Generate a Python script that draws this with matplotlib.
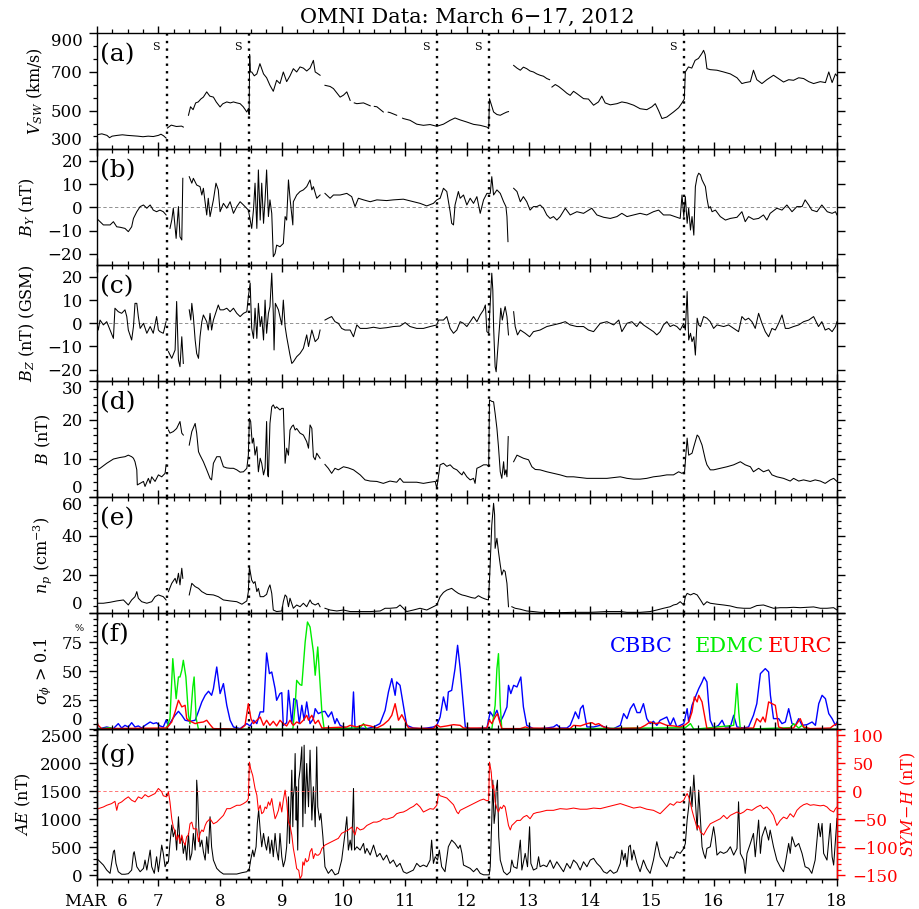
import numpy as np
import matplotlib
matplotlib.use("Agg")
import matplotlib.pyplot as plt
from matplotlib.ticker import MultipleLocator, FixedLocator

# OMNI overview, March 6-17 2012
# time in hours from 2012-03-06 00:00 ; nan marks data gaps
nan = float("nan")

shocks = [27.25, 59.4, 132.3, 152.6, 228.6]
day_labels = ["MAR  6", "7", "8", "9", "10", "11", "12", "13", "14", "15", "16", "17", "18"]

vsw = [(0, 375), (2, 380), (4, 372), (5, 360), (6, 368), (8, 372), (10, 375), (12, 372), (14, 370), (16, 368),
       (18, 365), (20, 368), (22, 366), (24, 372), (25, 378), (26, 370), (27, 358), (27.2, nan),
       (27.5, 410), (29, 425), (31, 418), (33, 420), (33.7, 415), (34.5, nan),
       (35.7, 476), (36.5, 520), (37.5, 505), (38.5, 540), (39.5, 545), (40.5, 560), (41.5, 570), (42.8, 597),
       (44, 575), (45.4, 570), (46.5, 545), (48, 519), (49, 535), (50.6, 545), (52, 540), (53.2, 545),
       (54.5, 540), (55.8, 536), (57, 520), (58.4, 493), (59, 510), (59.3, 480),
       (59.5, 790), (59.8, 700), (60.3, 700), (61.3, 680), (62.3, 690), (63.5, 743), (64.9, 690), (66.1, 670),
       (67.4, 631), (68.7, 600), (70, 657), (71.3, 640), (72.6, 700), (73.9, 650), (75.2, 680), (76.5, 717),
       (77.8, 700), (79.1, 726), (80.4, 720), (81.7, 705), (83, 720), (84.3, 760), (85, 700), (85.6, 695),
       (86.9, 683), (87.8, nan),
       (88.8, 631), (90.8, 625), (92.1, 614), (94.7, 570), (96, 580), (97.3, 597), (98.6, 553), (99.6, nan),
       (100.2, 540), (101.2, 536), (103.8, 540), (106.4, 525), (107.2, nan), (108, 522), (109, 520),
       (111.5, 493), (112.6, nan), (113.4, 492), (114.1, 490), (116.7, 476), (118.2, nan), (119, 461),
       (119.3, 459), (121.9, 450), (124.5, 430), (127.1, 424), (129.7, 428), (132.3, 419), (134.9, 430),
       (137.5, 450), (139.4, 462), (141.4, 452), (144, 441), (146.6, 429), (149.2, 424), (151.8, 415),
       (152.5, 407), (152.8, 562), (154.4, 493), (155.7, 480), (157, 476), (158.3, 485), (159.6, 493),
       (160.2, 495), (161.2, nan),
       (162.2, 734), (163.5, 720), (164.8, 709), (166, 725), (167.3, 717), (168.6, 705), (169.9, 700),
       (171.2, 690), (172.5, 683), (173.8, 678), (175.1, 666), (176.2, 660), (176.6, nan),
       (177.1, 622), (178.4, 635), (179.7, 625), (181.6, 605), (182.9, 590), (184.2, 579), (185.5, 600),
       (186.8, 588), (188.1, 575), (189.4, 562), (191.3, 560), (193.3, 528), (195.2, 545), (196.5, 575),
       (197.8, 540), (199.8, 530), (202.4, 536), (204.3, 545), (206.3, 540), (208.9, 528), (211.4, 510),
       (214, 505), (216, 520), (217.3, 536), (218.6, 500), (219.9, 459), (221.8, 467), (224.4, 493),
       (226.4, 515), (227.7, 540), (228.6, 560),
       (229, 700), (230.2, 726), (231.5, 720), (232.8, 760), (234.1, 770), (235.4, 795), (236.1, 812),
       (236.7, 790), (237.4, 717), (238.7, 712), (241.3, 709), (243.9, 700), (246.5, 690), (249.1, 670),
       (251, 640), (252.3, 645), (254.3, 650), (255.5, 709), (256.8, 660), (258.8, 640), (260.7, 660),
       (263.3, 683), (265.3, 665), (267.2, 648), (269.2, 660), (271.1, 657), (273.1, 670), (275, 666),
       (277, 650), (278.9, 640), (281.5, 650), (283.5, 645), (284.8, 700), (286.1, 645), (287.4, 690),
       (288, 680)]

by = [(0, -4.8), (1.3, -6.2), (2.6, -7.6), (5.2, -7.6), (6.5, -6.2), (7.8, -8.4), (9.1, -8.6), (11, -9.1),
      (12.3, -10.5), (13.6, -8.4), (14.3, -4.8), (15.6, -1.9), (16.9, 0.3), (18.2, 1.0), (19.5, -0.4),
      (20.8, 1), (22, -1.2), (23.3, -1.9), (24.6, -1.2), (25.9, -1.9), (27, -3.3), (27.6, nan),
      (28.5, -9.1), (29.2, -5.5), (29.8, -0.4), (30.9, -13.4), (31.8, 0.3), (32.4, -12.7), (33.1, -14.1),
      (33.5, 12.5), (34.5, nan),
      (36, 13.2), (37, 10.4), (37.6, 12.5), (38.9, 9.6), (40.2, 8.9), (40.9, 5.3), (41.5, 8.2), (42.8, -3.3),
      (43.4, 3.9), (44.1, -4.0), (45.4, 3.2), (46.4, 10.4), (47.3, 7.5), (48, -1.9), (49.3, 1.7),
      (50.6, -0.4), (51.9, 2.4), (53.2, -2.6), (54.5, 0.3), (55.8, 2.4), (57.1, 1.0), (59, -1.2),
      (59.7, -5.5), (60.3, -9.1), (61, -1), (61.6, 10.4), (62.3, -9.1), (62.9, 16.1), (63.6, -5.5),
      (64.2, 10.4), (64.9, -6.9), (65.5, 3.2), (66.1, 16.1), (66.8, -4), (67.4, 3.2), (68.1, -2.6),
      (68.7, -21.3), (69.4, -19.9), (70, -16.3), (71.3, -17), (72.6, -15.6), (73.3, -4), (73.9, -5.5),
      (74.6, 11.8), (75.2, 3.9), (76.3, -7.6), (76.5, 2.4), (77.8, 5.3), (79.1, 6.8), (80.4, 7.5),
      (81.7, 8.9), (83, 11.8), (83.7, 7.5), (84.3, 8.9), (85.6, 3.9), (86.9, 5.3), (87.8, nan),
      (88.8, 6.0), (90.8, 3.9), (92.1, 5.3), (94.7, 5.3), (97.3, 6), (99.2, 4.6), (100.5, 0.3),
      (101.8, 3.9), (103.8, 3.2), (106.4, 2.4), (109, 3.2), (112.8, 2.9), (115.4, 3.2), (119.3, 3.5),
      (123.2, 2.4), (125.8, 1.7), (128.4, 0.6), (131, 1.7), (132.3, 3.2), (133.6, 3.9), (134.9, 8.2),
      (136.2, 6.8), (137.5, -1.9), (138.1, -6.9), (138.8, -7.6), (139.4, 1), (140.7, 6.8), (141.4, 3.9),
      (142.7, 5.3), (144, 1), (145.3, 3.9), (146.6, 1.7), (147.9, 4.6), (149.2, -2.6), (150.5, 3.2),
      (151.8, 6), (153.1, 6), (153.7, 13.2), (154.4, 5.3), (155.7, 7.5), (157, 6), (158.3, 2.4),
      (159.2, 0.3), (159.6, -4), (160, -14.8), (161, nan),
      (162.2, 8.2), (163.5, 6.8), (164.8, 2.4), (166, 4.6), (167.3, 2.4), (168.6, -1.2), (169.9, 0.3),
      (171.2, 0.3), (172.5, 1), (173.8, -0.4), (175.1, -3.3), (176.4, -4.8), (177.7, -4), (179, -5.5),
      (180.3, -4), (182.3, -0.4), (184.2, -3.3), (186.8, -1.9), (189.4, -2.6), (192.6, -0.4),
      (194.6, -3.3), (197.2, -4.3), (199.8, -4.8), (202.4, -4), (204.3, -2.6), (206.3, -4), (208.9, -3.3),
      (211.4, -2.6), (214, -3.3), (216.6, -1.9), (218.6, -1.2), (220.5, -3.3), (223.1, -3.3),
      (225.7, -4.3), (227, -4.8), (227.7, 5.3), (228.4, -4), (229, 4.6), (229.7, -6.9), (230.3, -0.4),
      (231, -9.8), (231.6, -4), (232.3, -12), (232.9, 8.9), (233.6, 13.2), (234.2, 14.7), (234.9, 14),
      (235.5, 11.8), (236.8, 8.9), (237.4, 3.9), (238.1, -0.4), (238.7, 0.3), (239.4, -1.9),
      (240.7, -1.2), (242.6, -4), (244.6, -5.5), (246.5, -4.8), (249.1, -4.3), (251, -1.9),
      (252.3, -6.2), (253.6, -4), (255.5, -5.2), (257.5, -4.8), (259.4, -3.3), (260.7, -5.5), (262, -2.6),
      (264.6, -0.4), (266.6, -1.2), (268.5, 1), (270.5, -1.9), (272.4, 0.3), (274.4, 0.3), (275.6, 3.2),
      (277, 1), (278.2, -1.2), (280.2, -1.9), (282.1, 1), (284.2, -1.9), (286.1, -2.6), (287.4, -1.9),
      (288, -3.3)]

bz = [(0, 0.7), (0.6, -2.9), (1.3, 1.4), (2.6, -0.7), (3.9, 0.7), (5.2, -2.9), (6.5, -6.5), (7.1, 6.5),
      (8.4, 5), (9.7, 4.3), (11, 5.8), (11.7, 2.9), (12.3, -2.9), (13.6, -7.2), (14.3, -1.4), (14.9, 8.6),
      (15.6, 8.6), (16.2, 2.9), (16.9, -2.2), (18.2, 0), (19.5, -4.3), (20.8, -1.4), (22, -4.3),
      (23.3, 2.9), (24, -2.9), (24.6, -3.6), (25.9, -4.3), (27, 0.7), (27.4, nan),
      (27.9, -12.2), (29.2, -15.1), (30.5, -11.5), (31.1, 9.4), (31.8, -15.8), (32.4, -18.7),
      (33.1, -5.8), (33.7, -17.3), (34.8, nan),
      (36, 5.8), (36.6, 1.4), (37, 8.6), (37.6, 2.9), (38.3, -7.2), (38.9, -13), (39.6, -15.1),
      (40.2, -5.8), (40.9, 0.7), (41.5, 3.6), (42.8, 0.7), (43.4, -2.9), (44.1, 4.3), (44.7, -2.9),
      (45.4, 1.4), (46.7, 5.8), (47.3, 7.9), (48, 5.8), (49.3, 5.8), (50.6, 6.5), (51.9, 5), (53.2, 6.5),
      (54.5, 4.3), (55.8, 2.9), (57.1, 4.3), (58.4, 5), (59, 11.5), (59.7, 17.3), (60.3, -2.2),
      (61, -6.5), (61.6, 6.5), (62.3, -6.5), (62.9, 8.6), (63.6, -1.4), (64.2, 2.9), (64.9, -7.2),
      (65.5, 10), (66.1, -4.3), (66.8, 4.3), (67.4, 7.2), (68.1, 21.6), (68.7, 4.3), (69, -11.5),
      (69.5, 8.6), (70.7, 5.8), (72, -0.7), (72.6, 10), (73.3, -1.4), (73.9, -5.8), (74.6, -10),
      (75.2, -13.7), (75.9, -17.3), (76.5, -16.6), (77.8, -14.4), (79.1, -13), (80.4, -10.8),
      (81.7, -5), (82.4, -10), (83.7, -2.9), (85, -7.9), (86.2, -6.5), (86.9, -2.9), (87.8, nan),
      (88.8, 1.4), (90.1, 2.2), (91.4, 2.9), (92.7, 0.7), (94, 0), (95.3, -2.2), (96.6, -2.9),
      (98.6, -2.9), (99.9, -5.8), (101.2, -0.7), (102.5, -2.2), (105.1, -2.2), (107.7, -1.7),
      (110.2, -2.2), (112.8, -1.9), (115.4, -1.4), (118, -1.2), (120, 0.3), (121.9, -1.4), (124.5, -2.2),
      (127.1, -2.2), (129.7, -1.4), (132.3, -0.7), (133, 1.4), (134.9, 1.4), (136.2, 2.9), (137.5, -2.2),
      (138.8, -4.3), (140.1, -2.9), (141.4, 0.7), (142.7, 0), (144, -1.4), (145.3, 0.7), (146.6, 2.9),
      (147.9, 0.7), (149.2, 3.6), (150.5, 5.8), (151.2, 7.9), (151.8, -3.6), (152.5, -4.3), (153.1, 8.6),
      (153.7, 21.6), (154.1, 14.4), (154.4, -1.4), (155, -18.7), (155.4, -20.9), (155.9, -13),
      (156.7, -1.4), (157.2, 6.5), (157.8, 1.4), (158.3, 4.3), (158.9, 7.2), (159.6, 2.9), (160.2, -5),
      (161.2, nan),
      (162.2, 5), (162.8, -1.4), (163.7, -5), (164.8, -2.9), (166.7, -4.3), (168.4, -5.8), (169.9, -3.6),
      (172.5, -2.9), (175.1, -1.4), (177.7, -0.7), (180.3, 0), (182.3, 0.7), (184.2, -0.7), (186.8, -1.4),
      (189.4, -1.4), (191.3, -2.9), (193.3, -3.6), (195.9, 0), (198.5, 0.7), (201.1, -0.7), (203.1, 1.4),
      (204.3, -3.6), (206.3, 0), (208.2, 0.7), (210.1, -1.4), (211.4, 0.7), (212.7, -0.7), (214.7, -2.2),
      (216.6, -3.6), (217.9, -5), (219.2, -3.6), (220.5, -0.7), (221.8, 0.7), (223.1, -1.4),
      (224.4, -0.7), (225.7, -1.4), (227, -2.9), (228.4, 0), (229, -2.9), (229.7, 13.7), (229.9, 7.2),
      (230.3, -7.2), (231, -4.3), (231.6, -7.9), (232.3, -5.8), (232.9, -13.7), (233.6, 2.2),
      (234.2, -0.7), (234.9, -1.4), (236.1, 2.9), (237.4, 2.2), (238.7, 0.7), (240, -2.2), (241.3, -0.7),
      (243.9, -1.4), (245.8, -0.7), (247.8, -2.2), (249.7, -3.6), (251, 2.9), (252.3, 1.4), (253.6, 2.2),
      (254.9, 0.7), (256.2, -2.2), (257.5, 4.3), (258.8, 0), (260.1, -3.6), (261.4, -5.8), (262.7, -2.2),
      (264, -2.9), (265.3, 0), (266.6, 3.6), (267.9, -2.2), (269.2, -2.2), (271.1, -1.4), (273.1, -0.7),
      (275, 0.7), (277, 1.4), (278.9, 2.9), (280.8, -1.4), (282.1, 0.7), (283.4, -2.9), (284.8, -2.2),
      (286.1, -3.6), (287.4, -1.4), (288, 0.7)]

btot = [(0, 7.1), (1.3, 7.5), (3.9, 8.8), (6.5, 9.9), (9.1, 10.3), (11, 10.5), (12.3, 10.9), (13.6, 10.5),
        (14.3, 10.1), (14.9, 9.2), (15.6, 7.1), (15.8, 3.2), (16.9, 3.6), (18.2, 4.1), (18.8, 2.8),
        (20.1, 4.9), (20.8, 3.6), (21.4, 5.3), (22.7, 4.1), (24, 5.8), (25.3, 5.3), (26.6, 6.2), (27, 8.4),
        (27.3, nan),
        (27.9, 17.4), (28.5, 16.6), (29.8, 17), (31.1, 17.8), (32.4, 19.6), (33.1, 16.6), (33.7, 16.1),
        (34.8, nan),
        (36, 13.5), (37, 17), (38.3, 19.1), (38.9, 16.6), (39.6, 11.8), (40.2, 10.9), (41.5, 9.2),
        (42.8, 7.1), (44.1, 4.9), (44.7, 4.5), (45.4, 8.8), (46.7, 10.5), (48, 10.5), (49.3, 7.9),
        (50.6, 7.6), (51.9, 7.5), (53.2, 7.5), (54.5, 7.1), (55.8, 6.5), (57.1, 6.6), (58.4, 7.5),
        (59, 10.9), (59.4, 20.4), (59.9, 19.6), (60.5, 14), (61, 15.3), (61.6, 10.9), (62.3, 13.1),
        (62.9, 6.6), (63.6, 10.1), (64.2, 8.8), (64.9, 5.8), (65.5, 7.5), (66.1, 19.6), (66.5, 5.8),
        (66.8, 5.3), (67.4, 19.1), (68.1, 23.4), (68.7, 23.9), (69.4, 23), (70, 23.4), (71.3, 22.6),
        (72, 23), (72.6, 23), (73.3, 8.8), (73.9, 12.7), (74.6, 10.9), (75.2, 17.4), (75.9, 18.3),
        (76.5, 18.7), (77.2, 17.4), (77.8, 17.8), (79.1, 16.6), (80.4, 16.1), (81.7, 14.4), (82.4, 12.7),
        (83, 18.7), (83.7, 17.8), (84.3, 10.5), (85, 9.7), (85.6, 11.4), (86.9, 10.1), (87.8, nan),
        (88.8, 8.5), (90.1, 7.5), (91.4, 6.2), (92.7, 7.5), (94, 7.1), (96, 7.9), (97.9, 7.6), (99.9, 7.1),
        (102.5, 5.8), (104.4, 4.5), (106.4, 4.2), (109, 4.1), (111.5, 3.6), (114.1, 4.2), (116.7, 3.9),
        (118, 4.9), (119.3, 3.9), (121.9, 3.9), (124.5, 3.9), (127.1, 3.6), (129.7, 3.9), (131.7, 4.1),
        (132.3, 2.3), (133.6, 8.4), (134.9, 8.8), (136.2, 8), (137.5, 8.4), (138.8, 7.5), (140.1, 7.1),
        (141.4, 6.2), (142.1, 5.8), (142.7, 6.6), (144, 5.3), (145.3, 4.5), (146.6, 4.9), (147.2, 3.6),
        (147.9, 7.5), (149.2, 7.9), (150.5, 8.4), (151.8, 8.4), (152.5, 7.9), (152.8, 25.2), (153.7, 24.8),
        (154.4, 24.7), (155, 21.7), (155.7, 17.8), (156.3, 13.1), (157, 6.6), (157.6, 4.9), (158.3, 9.2),
        (158.7, 5.8), (159.2, 7.1), (159.6, 5.3), (160.1, 15.7), (161, nan),
        (162.2, 9.2), (163.5, 10.9), (164.8, 10.5), (166, 10.1), (168, 9.7), (169.3, 7.9), (170.6, 7.2),
        (172.5, 7.1), (175.1, 6.6), (177.7, 6.2), (180.3, 5.8), (182.9, 5.3), (185.5, 5.3), (188.1, 5.1),
        (190.7, 4.9), (193.3, 4.9), (195.9, 4.9), (198.5, 4.9), (201.1, 5.1), (203.7, 5.3), (206.3, 4.9),
        (208.9, 4.7), (211.4, 4.7), (214, 4.9), (216.6, 5.3), (219.2, 5.5), (221.8, 5.8), (224.4, 5.8),
        (226.4, 6.6), (227.7, 6.2), (228.7, 6.6), (229.7, 15.3), (230.3, 10.9), (231.6, 11.4),
        (232.3, 13.1), (233.6, 16.1), (234.2, 15.7), (235.5, 13.5), (236.8, 9.7), (237.4, 8.4),
        (238.7, 7.1), (240, 7.1), (242.6, 7.5), (245.2, 7.9), (247.8, 8.4), (250.4, 9.2), (252.3, 8.4),
        (254.3, 7.9), (255.5, 6.6), (257.5, 7.5), (259.4, 6.6), (261.4, 7.1), (262.7, 5.8), (264.6, 5.3),
        (267.2, 4.9), (269.8, 4.2), (271.1, 4.9), (273.1, 4.2), (275, 4.5), (277.6, 4.1), (279.5, 4.5),
        (281.5, 4.2), (283.4, 3.6), (285.4, 4.5), (286.7, 4.9), (288, 4.1)]

dens = [(0, 5.2), (2.6, 5.2), (5.2, 5.7), (7.8, 6.4), (10.4, 6.9), (12.3, 4.3), (13.6, 6.9), (14.9, 8.6),
        (15.6, 11.2), (16.2, 7.8), (17.5, 6), (19.5, 5.2), (21.4, 6), (22.7, 8.6), (24, 9.5), (25.9, 8.6),
        (27, 6.9), (27.4, nan),
        (27.9, 11.2), (29.2, 15.5), (30.5, 18.1), (31.1, 15.5), (31.8, 20.7), (32.4, 14.7), (33.1, 23.3),
        (33.5, 18.1), (34.8, nan),
        (36, 9.5), (37, 15.5), (38.3, 13.8), (39.6, 12.9), (40.9, 11.2), (42.8, 9.8), (45.4, 9.5),
        (47.3, 8.6), (49.3, 6.9), (51.9, 6.4), (54.5, 6), (56.5, 4.7), (58.4, 6.4), (59, 11.2),
        (59.4, 24.1), (60.3, 17.2), (61, 15.5), (61.6, 16.4), (62.3, 11.2), (62.9, 12.9), (63.6, 8.6),
        (64.9, 8.6), (66.1, 9.8), (66.8, 12.9), (67.4, 14.7), (68.1, 10.3), (68.7, 1.7), (70, 0.9),
        (72, 1.2), (72.6, 6), (73.3, 9.5), (73.9, 8.6), (74.6, 3.4), (75.2, 7.8), (76.5, 2.6), (77.8, 4.3),
        (79.1, 3.4), (80.4, 5.2), (81.7, 3.4), (83, 6.9), (83.7, 5.2), (85, 4.3), (86.2, 5.2), (86.9, 3.4),
        (87.8, nan),
        (88.8, 2.6), (90.8, 1.7), (93.4, 1.2), (96, 1.7), (98.6, 0.9), (102.5, 0.9), (106.4, 0.9),
        (110.3, 1.2), (112.2, 2.6), (114.1, 2.6), (116.7, 2.9), (118, 4.3), (119.3, 2.6), (120.6, 0.9),
        (123.2, 1.7), (125.8, 2.6), (128.4, 1.7), (131, 3.4), (132.3, 4.3), (133.6, 8.6), (134.9, 10.8),
        (136.2, 12), (138.1, 12.9), (139.4, 11.5), (140.7, 10.3), (142.1, 9.5), (143.4, 9.1), (144.6, 8.6),
        (145.9, 8.1), (147.2, 7.8), (148.5, 9.1), (149.8, 8.1), (151.1, 7.4), (152.4, 6.9), (152.9, 19.8),
        (153.7, 45.7), (154.4, 56.9), (154.8, 50.9), (155, 33.6), (155.7, 38.8), (156.3, 31.9), (157, 25),
        (157.6, 19.8), (158.3, 22.4), (158.9, 21.6), (159.6, 15.5), (160.2, 3.4), (160.8, nan),
        (161.5, 3.4), (162.8, 2.6), (164.8, 2.1), (167.3, 1.2), (169.9, 0.9), (172.5, 0.5), (179, 0.3),
        (185.5, 0.5), (192, 0.5), (198.5, 0.9), (201.1, 0.9), (203.7, 0.9), (206.3, 0.5), (211.4, 0.5),
        (215.3, 0.9), (217.9, 1.7), (220.5, 2.6), (223.1, 3.4), (224.4, 4.3), (225.7, 4.7), (227, 6),
        (228.4, 4.3), (229, 8.6), (229.7, 10.3), (231, 9.5), (232.3, 10.3), (233.6, 9.5), (234.9, 6.9),
        (236.1, 4.3), (237.4, 6), (238.7, 5.2), (241.3, 4.7), (243.9, 4.3), (246.5, 3.8), (249.1, 2.9),
        (251.7, 2.6), (254.3, 2.6), (256.8, 4), (259.4, 4.3), (261.4, 3.4), (263.3, 2.6), (265.9, 2.9),
        (268.5, 2.9), (271.1, 3.1), (273.7, 2.9), (276.3, 3.1), (278.9, 3.3), (281.5, 2.6), (284.1, 2.6),
        (286.7, 2.9), (288, 1.7)]

cbbc = [(0, 1), (1.3, 0.6), (3.9, 2), (6.5, 0.6), (8.4, 4.9), (9.7, 1.1), (11, 3.4), (12.3, 2), (13.6, 5.7),
        (14.9, 2), (16.2, 2.9), (17.5, 1.1), (18.8, 3.4), (20.8, 6.3), (22, 4.9), (23.3, 5.7), (24.6, 2.9),
        (25.9, 2), (27, 7.8), (27.9, 2.9), (29.2, 7.8), (30.5, 12.1), (31.8, 15.5), (33.1, 12.1),
        (34.4, 7.8), (36.3, 6.9), (38.3, 7.8), (39.6, 15.5), (40.9, 23.6), (42.2, 29.3), (43.5, 32.8),
        (44.7, 29.3), (45.4, 35), (46.7, 53.7), (48, 30.8), (49.3, 39.4), (50.6, 20.7), (51.9, 7.8),
        (53.2, 2), (55.8, 0.6), (58.4, 4.9), (59.7, 2.9), (61, 7.8), (62.3, 4.9), (63.6, 15), (64.9, 15),
        (66.1, 65.8), (67.2, 48), (68.1, 49.4), (69.4, 35), (70, 25), (71.3, 30.8), (72, 31.6), (72.6, 3.4),
        (73.9, 5.7), (74.6, 33.6), (75.9, 4.9), (76.7, 26.4), (77.8, 25), (78.8, 4.9), (79.8, 20.7),
        (80.7, 7.8), (81.7, 23.6), (83, 4.9), (84.3, 9.2), (85, 17.8), (86.2, 13.5), (87.6, 15),
        (88.8, 15.5), (90.1, 10.6), (91.4, 15), (92.7, 4.9), (93.4, 9.2), (94.7, 3.4), (96, 2), (97.3, 0.6),
        (99.2, 0.6), (99.9, 32.2), (100.5, 0.6), (102.5, 1.1), (105.1, 0.6), (107.7, 2), (110.2, 4.9),
        (112.2, 16.4), (113.5, 32.2), (114.8, 43.7), (116.1, 29.3), (116.7, 40.8), (118, 37.9),
        (119.3, 20.7), (120.6, 3.4), (123.2, 1.1), (125.8, 0.6), (128.4, 1.1), (131, 2), (132.3, 3.4),
        (133.6, 10.6), (134.9, 27.9), (136.2, 16.4), (136.8, 32.2), (138.1, 33.6), (139.4, 52.3),
        (140.4, 72.4), (141.4, 52.3), (142.1, 35), (143.4, 2), (145.3, 0.6), (147.9, 0.6), (151.8, 1.1),
        (153.1, 15), (154.4, 10.6), (155.7, 16.4), (157, 6.3), (158.3, 12.1), (159.6, 19.3), (160.2, 37.9),
        (161.1, 30.8), (162.2, 37.9), (163.5, 36.5), (165, 45.1), (166, 19.3), (167.3, 3.4), (169.9, 0.6),
        (172.5, 0.6), (175.1, 1.1), (177.7, 2), (179, 4), (180.3, 1.1), (182.9, 1.1), (184.2, 3.4),
        (185.5, 10.6), (186.2, 15), (187.5, 9.2), (188.2, 17.8), (189.2, 20.7), (190.1, 9.2), (190.7, 2),
        (193.3, 2), (195.9, 3.4), (198.5, 1.1), (201.1, 0.6), (203.7, 3.4), (205, 13.5), (206.3, 9.2),
        (207.6, 17.8), (208.9, 22.1), (210.2, 14.4), (211.4, 14.4), (212.7, 22.1), (214, 9.2), (215.3, 4.9),
        (216.6, 6.9), (217.9, 3.4), (219.2, 7.8), (220.5, 9.2), (221.8, 10.6), (223.1, 3.4), (224.4, 9.8),
        (225.7, 2), (227, 3.4), (228.4, 4.9), (229.7, 17.8), (230.3, 6.3), (231.6, 20.7), (232.9, 27.9),
        (234.2, 35), (235.5, 40.8), (236.3, 45.1), (237.4, 40.8), (238, 23.6), (238.7, 7.8), (240, 1.1),
        (241.9, 3.4), (243.3, 7.8), (244.5, 2), (246.5, 2), (247.8, 12.1), (249.1, 2), (251.7, 1.1),
        (253.6, 2), (255.5, 12.1), (256.8, 22.1), (258.2, 48), (260.1, 52.3), (261.4, 49.4), (262.1, 29.3),
        (263.3, 9.2), (265.3, 9.2), (266.6, 4.9), (267.9, 6.3), (269.2, 17.8), (270.5, 4.9), (271.8, 3.4),
        (273.1, 9.2), (274.4, 3.4), (276.3, 4), (278.3, 6.3), (279.6, 3.4), (280.9, 22.1), (282.2, 29.3),
        (283.5, 26.4), (284.8, 13.5), (286.1, 9.2), (287.4, 3.4), (288, 6.3)]

edmc = [(0, 0), (5.2, 1.4), (6.5, 0), (27, 0), (28.5, 9.2), (29.6, 60.9), (30.9, 26.4), (31.8, 45.1),
        (32.4, 45.1), (33.1, 50.9), (33.7, 59.5), (34.7, 45.1), (35.7, 12.1), (36.3, 4.9), (37.4, 36.5),
        (37.9, 45.1), (38.7, 9.2), (39.6, 0), (76.3, 0), (77.2, 20.7), (77.8, 42.2), (79.1, 38.5),
        (79.8, 37.9), (81.1, 75.3), (82, 92.5), (83, 88.2), (84.3, 66.7), (85, 46.6), (86, 71), (86.9, 39.4),
        (87.6, 15), (88.5, 0), (102.5, 1.4), (103.8, 4.9), (105.1, 0), (153.7, 0), (155, 20.7),
        (155.7, 52.3), (156.3, 65.2), (157, 20.7), (157.6, 0), (229, 1.4), (231, 4.9), (232.3, 0),
        (247.8, 3.4), (248.4, 19.3), (249.1, 39.4), (249.8, 14.4), (250.4, 0), (269.8, 1.4), (271.1, 4.9),
        (273.1, 1.1), (274.4, 3.4), (275.7, 0), (288, 0)]

eurc = [(0, 6.3), (0.6, 3.4), (1.9, 0.6), (27.2, 1.1), (29.2, 6.3), (30.5, 15), (31.8, 25), (33.1, 19.3),
        (34.4, 20.7), (35, 9.2), (35.7, 7.8), (37, 6.3), (38.3, 4.9), (39.6, 5.7), (41.5, 6.3), (42.8, 7.8),
        (44.1, 4), (45.4, 0.6), (55.8, 0), (57.7, 3.4), (59, 22.1), (60, 9.2), (61, 4.9), (62.3, 7.8),
        (63.6, 10.6), (64.9, 3.4), (66.1, 7.8), (67.4, 3.4), (68.7, 6.9), (70, 2.9), (71.3, 7.8),
        (72.6, 4.9), (73.9, 2.9), (75.2, 7.8), (76.5, 3.4), (77.8, 6.3), (79.1, 4.9), (80.4, 7.8),
        (81.7, 12.1), (82.4, 7.8), (83.7, 12.1), (85, 4.9), (86.2, 7.8), (87.6, 1.1), (97.3, 2),
        (98.6, 3.4), (101.2, 2), (103.8, 4), (106.4, 2.9), (109, 1.1), (111.5, 4), (113.5, 7.8),
        (114.8, 12.1), (116.1, 22.1), (117.4, 7.8), (118.7, 12.6), (120, 6.9), (121.3, 1.1), (131, 0.6),
        (132.3, 4), (133.6, 2), (136.2, 2.9), (138.8, 4), (141.4, 3.4), (142.7, 1.1), (151.8, 1.1),
        (152.8, 7.8), (153.7, 4.9), (155, 10.6), (155.9, 13.5), (156.8, 6.3), (157.6, 0.6), (164.8, 0.6),
        (166.8, 2), (168.1, 1.1), (184.2, 0.6), (185.5, 3.4), (188.2, 2.9), (190.7, 4.9), (192.7, 5.7),
        (194, 4), (195.3, 4.9), (197.2, 2), (199.8, 0.6), (211.4, 1.1), (213.4, 3.4), (215.3, 6.3),
        (217.3, 4.9), (219.2, 5.7), (221.8, 3.4), (224.4, 2.9), (227, 2), (229, 4), (230.3, 6.3),
        (231.6, 15), (232.5, 27.9), (233.6, 23.6), (234.2, 29.3), (235.5, 23.6), (236.8, 7.8), (237.4, 0.6),
        (255.5, 1.1), (256.8, 9.2), (258.2, 6.3), (259.2, 10.6), (260.1, 6.3), (261.4, 23.6), (262.7, 22.1),
        (264, 20.7), (265.3, 2), (267.2, 0.6), (271.1, 1.1), (272.4, 4.9), (273.7, 9.2), (275, 2),
        (277.6, 0.6), (285.4, 1.1), (286.7, 3.4), (288, 4.9)]

ae = [(0, 303), (1.3, 243), (2.6, 184), (3.9, 95), (5.2, 36), (6.5, 422), (6.9, 451), (7.5, 214), (8.4, 65),
      (9.7, 20), (11, 20), (12.3, 30), (13.6, 95), (14.3, 392), (14.6, 422), (15.6, 154), (16.9, 65),
      (18.2, 125), (18.8, 273), (19.5, 95), (20.8, 451), (21.4, 154), (22.4, 36), (23.3, 332), (24, 65),
      (25.3, 540), (25.9, 392), (26.6, 154), (27.2, 214), (27.9, 243), (28.5, 570), (29.2, 897),
      (29.8, 689), (30.5, 808), (31.1, 451), (31.8, 1045), (32.4, 570), (33.1, 689), (33.7, 392),
      (34.4, 570), (35, 273), (35.7, 748), (36.3, 273), (37, 392), (37.6, 748), (38.3, 451), (38.7, 986),
      (38.9, 1698), (39.3, 1401), (39.7, 867), (40.2, 510), (40.9, 629), (41.5, 422), (42.2, 273),
      (42.8, 689), (43.4, 392), (44.1, 1045), (44.7, 510), (45.4, 273), (46.7, 125), (48, 65), (49.3, 24),
      (51.9, 24), (54.5, 24), (56.5, 48), (58.4, 65), (59.4, 125), (59.9, 273), (60.7, 451), (61.2, 332),
      (62, 510), (62.5, 926), (63, 1164), (63.6, 807), (64.2, 510), (64.9, 748), (65.5, 570), (66.1, 451),
      (66.8, 689), (67.4, 392), (68.1, 629), (68.7, 332), (69.4, 748), (70, 451), (70.7, 273), (71.3, 748),
      (72, 332), (72.6, 154), (73.3, 273), (73.9, 510), (74.2, 867), (74.6, 1401), (75, 570),
      (75.5, 1223), (75.9, 1876), (76.3, 867), (76.5, 1401), (76.9, 1580), (77.2, 2173), (77.6, 986),
      (77.8, 1580), (78.2, 451), (78.6, 1698), (79.1, 1876), (79.8, 2292), (80.2, 867), (80.7, 2321),
      (81.1, 1104), (81.7, 1995), (82.4, 1223), (83, 2233), (83.7, 986), (84.3, 1580), (85, 867),
      (85.6, 2292), (86, 1223), (86.7, 986), (87.2, 1104), (88, 689), (88.8, 154), (90.1, 36),
      (91.4, 107), (92.7, 10), (94, 36), (95.3, 273), (96.6, 748), (97.3, 1045), (97.9, 451), (98.6, 629),
      (99.2, 451), (99.9, 1550), (100.3, 451), (101.2, 510), (102.5, 451), (103.8, 570), (104.4, 392),
      (105.1, 481), (106.4, 362), (107.7, 540), (109, 332), (110.2, 392), (111.5, 273), (112.8, 362),
      (114.1, 214), (115.4, 273), (116.7, 154), (118, 214), (119.3, 65), (120.6, 36), (121.9, 65),
      (123.2, 95), (124.5, 214), (125.8, 154), (127.1, 184), (128.4, 154), (129.7, 273), (130.3, 629),
      (131, 214), (131.7, 332), (132.6, 273), (133.3, 451), (134.2, 154), (135.5, 65), (136.8, 510),
      (138.1, 629), (139.4, 570), (140.7, 481), (141.4, 540), (142.1, 392), (142.7, 184), (144, 154),
      (145.3, 125), (146.6, 65), (147.9, 125), (149.2, 36), (150.5, 10), (151.8, 10), (152.7, 10),
      (153.1, 154), (153.7, 986), (154.1, 1698), (154.6, 926), (155, 1104), (155.4, 1520), (155.9, 1698),
      (156.4, 689), (157, 273), (158.3, 65), (159.6, 10), (160.9, 65), (161.5, 273), (162.2, 154),
      (163.5, 125), (164.8, 629), (165.4, 95), (166.7, 392), (167.6, 154), (168.4, 867), (168.9, 214),
      (169.9, 95), (171.2, 125), (171.9, 332), (172.5, 154), (173.8, 184), (175.1, 154), (176.4, 273),
      (177.7, 125), (179, 243), (180.3, 154), (181.6, 65), (182.9, 214), (184.2, 125), (185.5, 273),
      (186.8, 214), (188.1, 95), (189.4, 243), (190.7, 154), (192, 273), (193.3, 303), (194.6, 214),
      (195.9, 154), (197.2, 65), (198.5, 36), (199.8, 95), (201.1, 36), (202.4, 65), (203.7, 214),
      (204.3, 451), (205, 273), (205.6, 392), (206.3, 154), (207, 510), (207.6, 540), (208.2, 273),
      (208.9, 451), (210.2, 214), (211.4, 65), (212.7, 273), (214, 125), (215.3, 36), (216.6, 273),
      (217.9, 600), (219.2, 332), (220.5, 243), (221.8, 154), (223.1, 332), (224.4, 303), (225.7, 422),
      (227, 392), (228.4, 481), (229, 570), (229.7, 986), (230.3, 1223), (231, 1580), (231.6, 1223),
      (232.3, 1787), (232.9, 1342), (233.6, 807), (234.2, 1520), (234.9, 986), (235.5, 510), (236.1, 392),
      (236.8, 303), (237.4, 481), (238.7, 510), (240, 867), (240.6, 689), (241.3, 362), (242.6, 422),
      (243.9, 392), (245.2, 422), (246.5, 510), (247.8, 362), (249.1, 481), (249.7, 1312), (250.4, 392),
      (251.7, 273), (252.3, 36), (253, 392), (254.3, 570), (255.5, 748), (256.2, 332), (257.5, 986),
      (258.2, 392), (258.8, 689), (260.1, 867), (261.4, 629), (262, 807), (263.3, 510), (264.6, 273),
      (265.9, 154), (267.2, 65), (267.9, 214), (269.2, 570), (269.8, 392), (270.5, 689), (271.8, 510),
      (273.1, 570), (274.4, 392), (275.6, 154), (277, 125), (278.2, 36), (279.5, 273), (280.8, 926),
      (281.5, 689), (282.2, 926), (282.8, 392), (284.1, 273), (285.4, 926), (286.1, 332), (286.7, 184),
      (287.4, 629), (288, 1015)]

symh = [(0, -32), (1.3, -30), (2.6, -28), (3.9, -25), (5.8, -22), (7.1, -18), (7.8, -34), (8.4, -22),
        (9.7, -19), (11, -14), (12.3, -10), (13.6, -16), (14.9, -19), (16.2, -10), (17.5, -13), (18.8, -6),
        (20.1, -10), (21.4, -7), (22.7, -4), (24, 5), (25.3, -1), (25.9, -8), (27.2, -10), (27.9, -1),
        (28.5, -19), (29.2, -49), (29.8, -64), (30.5, -72), (31.1, -87), (31.8, -78), (32.4, -93),
        (33.1, -78), (33.7, -90), (34.4, -96), (35, -81), (35.7, -78), (36.3, -58), (37, -55), (37.6, -67),
        (38.9, -67), (39.6, -90), (40.2, -75), (40.9, -69), (41.5, -72), (42.2, -61), (42.8, -55),
        (44.1, -49), (45.4, -58), (46.7, -55), (48, -49), (49.3, -43), (50.6, -31), (51.9, -31),
        (53.2, -28), (54.5, -25), (55.8, -25), (57.1, -22), (58.4, -18), (59, -13), (59.4, 52), (59.9, 40),
        (60.7, 28), (61.6, 5), (62.3, -7), (62.9, -34), (63.6, -25), (64.2, -40), (64.9, -37), (65.5, -28),
        (66.1, -31), (66.8, -19), (67.4, -25), (68.1, -13), (68.7, -31), (69.4, -49), (70, -43),
        (70.7, -34), (71.3, -19), (72, -37), (72.6, -16), (73.3, 2), (73.9, -19), (74.6, -55), (75.2, -61),
        (75.9, -78), (76.5, -102), (77.2, -120), (77.8, -138), (78.6, -141), (79.1, -156), (79.8, -150),
        (80.2, -126), (80.7, -132), (81.2, -120), (81.7, -126), (82.4, -123), (83, -108), (83.7, -102),
        (84.3, -120), (85, -111), (85.6, -114), (86.2, -114), (86.9, -111), (87.6, -102), (88.2, -99),
        (88.8, -96), (90.1, -93), (91.4, -90), (92.7, -87), (94, -84), (95.3, -75), (96.6, -72),
        (97.9, -69), (99.2, -64), (99.9, -72), (100.5, -78), (101.2, -64), (102.5, -69), (103.8, -67),
        (105.1, -61), (106.4, -58), (107.7, -55), (109, -55), (110.2, -53), (111.5, -49), (112.8, -50),
        (114.1, -48), (115.4, -46), (116.7, -40), (118, -38), (119.3, -37), (120.6, -34), (121.9, -30),
        (123.2, -27), (124.5, -22), (125.8, -28), (127.1, -37), (128.4, -34), (129.7, -31), (131, -32),
        (132.3, -25), (133, -4), (133.6, -8), (134.9, -10), (136.2, -12), (137.5, -18), (138.8, -24),
        (140.1, -37), (140.7, -40), (141.4, -34), (142.7, -31), (144, -28), (145.3, -25), (146.6, -22),
        (147.9, -19), (149.2, -16), (150.5, -14), (151.8, -17), (152.5, -16), (152.8, 52), (153.5, 34),
        (153.9, 5), (154.4, 11), (155, -19), (155.7, -31), (156.3, -37), (157, -28), (157.6, -31),
        (158.3, -25), (158.9, -28), (159.6, -46), (160.2, -61), (160.9, -69), (161.5, -61), (162.2, -58),
        (163.5, -52), (164.8, -52), (166, -46), (167.3, -43), (168.6, -49), (169.9, -40), (171.2, -38),
        (172.5, -37), (175.1, -34), (177.7, -34), (180.3, -31), (182.9, -32), (185.5, -30), (188.1, -32),
        (190.7, -32), (193.3, -30), (195.9, -31), (198.5, -28), (201.1, -25), (203.7, -22), (206.3, -26),
        (208.9, -30), (211.4, -28), (214, -32), (216.6, -34), (219.2, -40), (220.5, -34), (221.8, -28),
        (223.1, -22), (224.4, -25), (225.7, -19), (227, -20), (228.4, -16), (229, -10), (229.7, -4),
        (230.3, -10), (231, -22), (231.6, -34), (232.3, -46), (232.9, -55), (233.6, -67), (234.2, -61),
        (234.9, -73), (235.5, -75), (236.1, -78), (236.8, -72), (237.4, -67), (238.7, -58), (240, -55),
        (241.3, -52), (242.6, -49), (243.9, -43), (245.2, -49), (246.5, -43), (247.8, -40), (249.1, -37),
        (250.4, -40), (251.7, -37), (253, -32), (254.9, -34), (256.8, -28), (258.2, -25), (259.4, -31),
        (260.7, -28), (262, -34), (263.3, -43), (264.6, -61), (265.9, -52), (267.2, -46), (268.5, -49),
        (269.8, -40), (271.1, -46), (272.4, -34), (273.7, -28), (275, -24), (276.3, -22), (277.6, -25),
        (278.9, -24), (280.2, -25), (281.5, -26), (282.8, -25), (284.1, -28), (285.4, -34), (286.7, -37),
        (287.4, -31), (288, -28)]


def xy(series):
    arr = np.array(series, dtype=float)
    return arr[:, 0], arr[:, 1]


plt.rcParams["font.family"] = "DejaVu Serif"
plt.rcParams["mathtext.fontset"] = "dejavuserif"
plt.rcParams["font.size"] = 11.5
plt.rcParams["xtick.labelsize"] = 12
plt.rcParams["ytick.labelsize"] = 12

fig = plt.figure(figsize=(9.2, 9.09), dpi=100)
W, H = 920.0, 909.0
x0, x1 = 96.7, 837.0
tops = [33.3, 149.3, 265.3, 381.3, 497.3, 613.3, 729.3]
bots = tops[1:] + [879.3]

axes = []
for top, bot in zip(tops, bots):
    ax = fig.add_axes([x0 / W, 1 - bot / H, (x1 - x0) / W, (bot - top) / H])
    ax.set_facecolor("none")
    ax.set_xlim(0, 288)
    ax.xaxis.set_major_locator(MultipleLocator(24))
    ax.xaxis.set_minor_locator(MultipleLocator(6))
    ax.tick_params(axis="x", which="both", direction="out", top=True, bottom=True, labelbottom=False)
    ax.tick_params(axis="x", which="major", length=5, width=1)
    ax.tick_params(axis="x", which="minor", length=3, width=0.9)
    ax.tick_params(axis="y", which="both", direction="out", left=True, right=True, pad=4)
    ax.tick_params(axis="y", which="major", length=6, width=1)
    ax.tick_params(axis="y", which="minor", length=3, width=0.9)
    for sp in ax.spines.values():
        sp.set_linewidth(1.0)
    for s in shocks:
        ax.axvline(s, color="black", ls=(0, (1, 2.2)), lw=1.7, zorder=1)
    axes.append(ax)

ax_a, ax_b, ax_c, ax_d, ax_e, ax_f, ax_g = axes
lw = 0.75


def edge_labels(ax, bottom=True, top=True):
    labs = ax.get_yticklabels()
    if bottom:
        labs[0].set_va("bottom")
    if top:
        labs[-1].set_va("top")


# (a) solar wind speed
t, v = xy(vsw)
ax_a.plot(t, v, color="black", lw=lw)
ax_a.set_ylim(300, 900)
ax_a.set_yticks([300, 500, 700, 900])
ax_a.yaxis.set_minor_locator(FixedLocator(np.arange(300, 901, 200 / 3)))
edge_labels(ax_a)
ax_a.set_ylabel(r"$V_{SW}$ (km/s)", va="center")
ax_a.yaxis.set_label_coords(-0.083, 0.5)
for s in shocks:
    ax_a.text(s - 4.3, 0.88, "S", transform=ax_a.get_xaxis_transform(), fontsize=8, ha="center", va="center")

# (b) By, (c) Bz
for ax, ser, lab, xl in [(ax_b, by, r"$B_Y$ (nT)", -0.094), (ax_c, bz, r"$B_Z$ (nT) (GSM)", -0.094)]:
    t, v = xy(ser)
    ax.axhline(0, color="gray", ls=(0, (4, 3)), lw=0.6)
    ax.plot(t, v, color="black", lw=lw)
    ax.set_ylim(-25, 25)
    ax.set_yticks([-20, -10, 0, 10, 20])
    ax.set_ylabel(lab, va="center")
    ax.yaxis.set_label_coords(xl, 0.5)

# (d) |B|
t, v = xy(btot)
ax_d.plot(t, v, color="black", lw=lw)
ax_d.set_ylim(0, 30)
ax_d.set_yticks([0, 10, 20, 30])
ax_d.yaxis.set_minor_locator(MultipleLocator(2))
edge_labels(ax_d)
ax_d.set_ylabel(r"$B$ (nT)", va="center")
ax_d.yaxis.set_label_coords(-0.0725, 0.5)

# (e) density
t, v = xy(dens)
ax_e.plot(t, v, color="black", lw=lw)
ax_e.set_ylim(0, 60)
ax_e.set_yticks([0, 20, 40, 60])
ax_e.yaxis.set_minor_locator(MultipleLocator(4))
edge_labels(ax_e)
ax_e.set_ylabel(r"$n_p$ (cm$^{-3}$)", va="center")
ax_e.yaxis.set_label_coords(-0.0725, 0.5)

# (f) occurrence of the three wave modes
for ser, col in [(cbbc, "#0000ff"), (edmc, "#00ee00"), (eurc, "#ff0000")]:
    t, v = xy(ser)
    ax_f.plot(t, v, color=col, lw=1.0)
ax_f.set_ylim(0, 100)
ax_f.set_yticks([0, 25, 50, 75, 100])
ax_f.set_yticklabels(["0", "25", "50", "75", ""])
ax_f.yaxis.set_minor_locator(MultipleLocator(5))
edge_labels(ax_f, top=False)
ax_f.set_ylabel(r"$\sigma_\phi$ > 0.1", va="center")
ax_f.yaxis.set_label_coords(-0.0725, 0.5)
ax_f.text(-0.024, 0.865, "%", transform=ax_f.transAxes, fontsize=7, ha="center", va="center")
ax_f.text(0.693, 0.71, "CBBC", color="#0000ff", transform=ax_f.transAxes, fontsize=15, va="center")
ax_f.text(0.808, 0.71, "EDMC", color="#00ee00", transform=ax_f.transAxes, fontsize=15, va="center")
ax_f.text(0.907, 0.71, "EURC", color="#ff0000", transform=ax_f.transAxes, fontsize=15, va="center")

# (g) AE and SYM-H
ae_lo, ae_hi = -70, 2605
t, v = xy(ae)
ax_g.plot(t, v, color="black", lw=lw)
ax_g.set_ylim(ae_lo, ae_hi)
ax_g.set_yticks([0, 500, 1000, 1500, 2000, 2500])
ax_g.yaxis.set_minor_locator(MultipleLocator(100))
ax_g.tick_params(axis="y", which="both", right=False)
ax_g.set_ylabel(r"$AE$ (nT)", va="center")
ax_g.yaxis.set_label_coords(-0.099, 0.5)
ax_g.set_xticks(np.arange(0, 289, 24))
ax_g.set_xticklabels(day_labels)
ax_g.tick_params(axis="x", which="both", labelbottom=True, pad=5)

ax_s = ax_g.twinx()
ax_s.set_xlim(0, 288)
ax_s.set_ylim((ae_lo - 1500) / 10, (ae_hi - 1500) / 10)
ax_s.axhline(0, color="#ff6060", ls=(0, (4, 3)), lw=0.6)
t, v = xy(symh)
ax_s.plot(t, v, color="#ff0000", lw=lw)
ax_s.set_yticks([-150, -100, -50, 0, 50, 100])
ax_s.yaxis.set_minor_locator(MultipleLocator(10))
ax_s.tick_params(axis="y", which="both", direction="out", colors="#ff0000", pad=5)
ax_s.tick_params(axis="y", which="major", length=6, width=1)
ax_s.tick_params(axis="y", which="minor", length=3, width=0.9)
ax_s.spines["right"].set_color("#ff0000")
for sp in ax_s.spines.values():
    sp.set_linewidth(1.0)
ax_s.set_ylabel(r"$SYM\!-\!H$ (nT)", color="#ff0000", va="center", rotation=90)
ax_s.yaxis.set_label_coords(1.096, 0.5)

for ax, lab in zip(axes, "abcdefg"):
    yy = 0.83 if lab == "g" else 0.815
    ax.text(0.005, yy, "(%s)" % lab, transform=ax.transAxes, fontsize=18, ha="left", va="center")

fig.text(467 / W, 1 - 17 / H, "OMNI Data: March 6\u221217, 2012", ha="center", va="center", fontsize=15)

fig.savefig("out.png", dpi=100)
